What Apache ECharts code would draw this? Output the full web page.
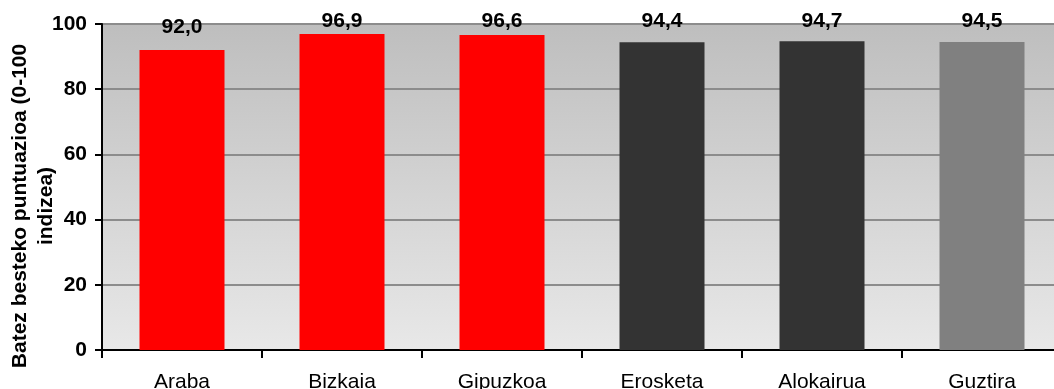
<!DOCTYPE html>
<html><head><meta charset="utf-8">
<script src="https://cdn.jsdelivr.net/npm/echarts@6/dist/echarts.min.js"></script>
<style>html,body{margin:0;padding:0;background:#fff}#c{width:1054px;height:389px}</style>
</head><body><div id="c"></div>
<script>
const categories = ['Araba', 'Bizkaia', 'Gipuzkoa', 'Erosketa', 'Alokairua', 'Guztira'];
const values = [92.0, 96.9, 96.6, 94.4, 94.7, 94.5];
const barColors = ['#ff0000', '#ff0000', '#ff0000', '#333333', '#333333', '#808080'];
const yTicks = [0, 20, 40, 60, 80, 100];
const yTitle = 'Batez besteko puntuazioa (0-100\nindizea)';

const FONT = '"Liberation Sans", Arial, sans-serif';
const chart = echarts.init(document.getElementById('c'));

function buildOption(offsets) {
  return {
    animation: false,
    grid: { left: 102, right: -8, top: 24, bottom: 39, containLabel: false, outerBoundsMode: 'none' },
    graphic: [{
      type: 'text',
      x: 33, y: 206,
      rotation: Math.PI / 2,
      style: {
        text: yTitle, font: 'bold 21px ' + FONT, fill: '#000',
        align: 'center', verticalAlign: 'middle', lineHeight: 26
      }
    }, {
      type: 'rect', z: -1, silent: true,
      shape: { x: 102, y: 24, width: 960, height: 326 },
      style: { fill: new echarts.graphic.LinearGradient(0, 0, 0, 1, [
        { offset: 0, color: '#bebebe' }, { offset: 1, color: '#e8e8e8' }]) }
    }],
    xAxis: {
      type: 'category', data: categories,
      axisLine: { lineStyle: { color: '#000', width: 2 } },
      axisTick: { show: true, length: 8, lineStyle: { color: '#000', width: 2 } },
      axisLabel: { fontFamily: FONT, fontSize: 21, color: '#000', margin: 22 }
    },
    yAxis: {
      type: 'value', min: yTicks[0], max: yTicks[yTicks.length - 1], interval: yTicks[1] - yTicks[0],
      axisLine: { show: true, lineStyle: { color: '#000', width: 2 } },
      axisTick: { show: true, length: 7, lineStyle: { color: '#000', width: 2 } },
      axisLabel: { fontFamily: FONT, fontSize: 21, fontWeight: 'bold', color: '#000', margin: 15 },
      splitLine: { show: true, lineStyle: { color: '#8c8c8c', width: 2 } }
    },
    series: [{
      type: 'bar', barWidth: 85,
      data: values.map((v, i) => ({
        value: v,
        itemStyle: { color: barColors[i] },
        label: { offset: [0, offsets ? offsets[i] : 0] }
      })),
      label: {
        show: true, position: 'top', distance: 12,
        fontFamily: FONT, fontSize: 21, fontWeight: 'bold', color: '#000',
        formatter: p => p.value.toFixed(1).replace('.', ',')
      }
    }]
  };
}

chart.setOption(buildOption(null));
// Keep value labels inside the top of the chart, as the original does
const minCenter = 21, halfH = 10.5, dist = 12;
const offsets = values.map((v, i) => {
  const top = chart.convertToPixel({ gridIndex: 0 }, [i, v])[1];
  const center = top - dist - halfH;
  return center < minCenter ? minCenter - center : 0;
});
chart.setOption(buildOption(offsets));
</script></body></html>
